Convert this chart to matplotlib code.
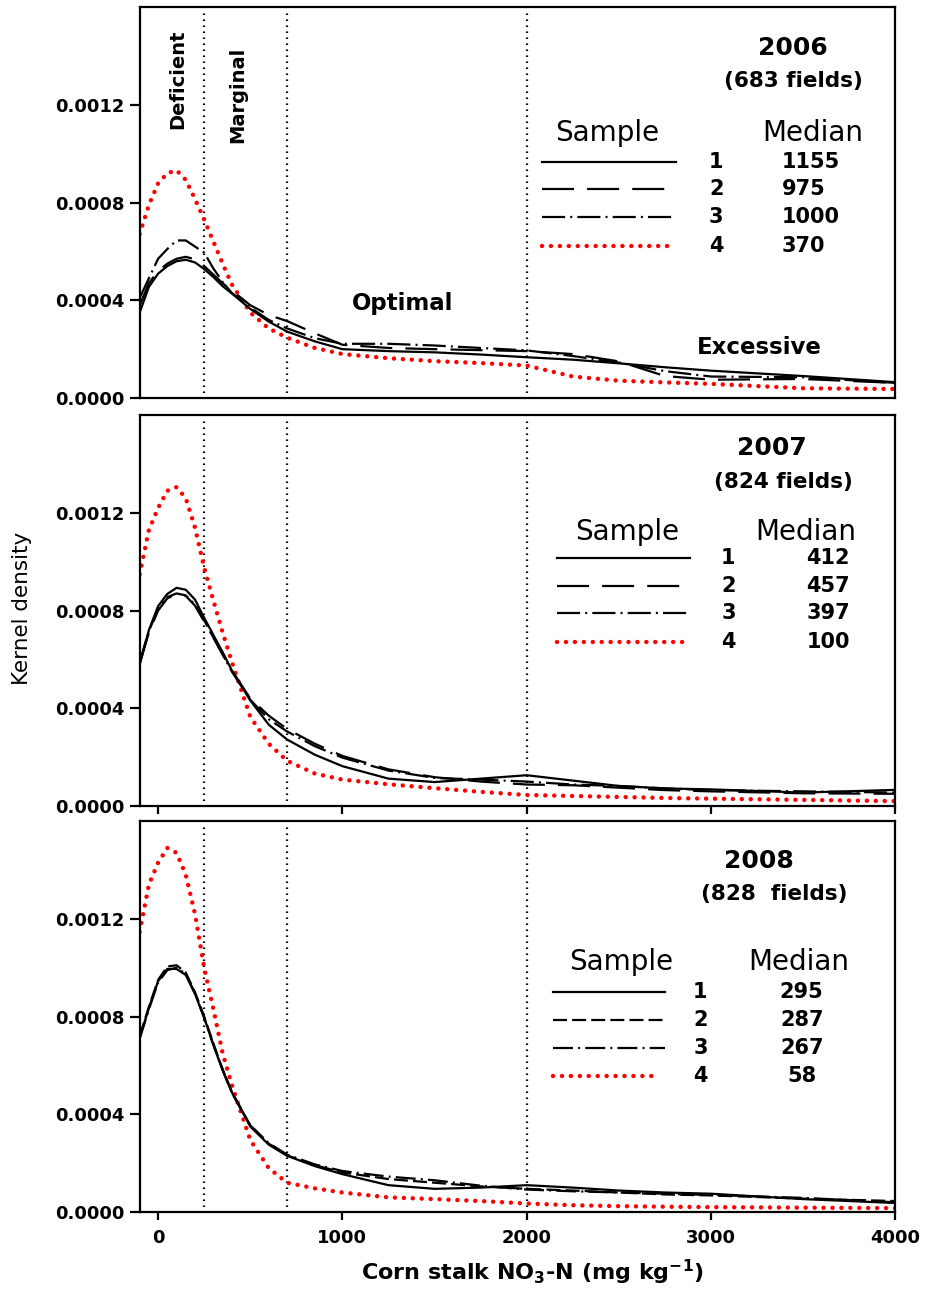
import matplotlib
matplotlib.use("Agg")
import matplotlib.pyplot as plt
from matplotlib.lines import Line2D

# ---------------- data ----------------
x_vals = [-100, -50, 0, 50, 100, 150, 200, 250, 300, 350, 400, 500, 600, 700,
          850, 1000, 1250, 1500, 1750, 2000, 2250, 2500, 2750, 3000, 3500, 4000]

d2006_s1 = [3.50, 4.55, 5.09, 5.40, 5.60, 5.66, 5.55, 5.28, 4.95, 4.58, 4.28, 3.65, 3.13, 2.72,
            2.32, 2.00, 1.92, 1.87, 1.78, 1.67, 1.57, 1.42, 1.26, 1.12, 0.90, 0.65]
d2006_s2 = [3.80, 4.70, 5.20, 5.50, 5.70, 5.78, 5.68, 5.40, 5.05, 4.70, 4.40, 3.80, 3.40, 3.15,
            2.65, 2.18, 2.05, 2.00, 1.96, 1.92, 1.80, 1.50, 0.90, 0.75, 0.78, 0.62]
d2006_s3 = [4.10, 4.90, 5.70, 6.10, 6.45, 6.45, 6.20, 5.95, 5.30, 4.75, 4.30, 3.70, 3.20, 2.85,
            2.45, 2.22, 2.22, 2.15, 2.05, 1.95, 1.72, 1.45, 1.10, 0.88, 0.85, 0.62]
d2006_s4 = [6.71, 7.90, 8.79, 9.20, 9.32, 8.93, 8.15, 7.30, 6.40, 5.50, 4.65, 3.50, 2.85, 2.47,
            2.05, 1.80, 1.63, 1.51, 1.43, 1.33, 0.88, 0.71, 0.64, 0.58, 0.40, 0.37]

d2007_s1 = [5.82, 7.20, 8.18, 8.68, 8.93, 8.85, 8.45, 7.70, 7.00, 6.30, 5.55, 4.32, 3.33, 2.72,
            2.10, 1.63, 1.12, 0.98, 1.12, 1.26, 1.04, 0.82, 0.72, 0.68, 0.55, 0.66]
d2007_s2 = [5.80, 7.10, 8.00, 8.50, 8.68, 8.60, 8.20, 7.55, 6.90, 6.20, 5.55, 4.40, 3.70, 3.15,
            2.55, 2.05, 1.50, 1.18, 1.00, 0.88, 0.85, 0.75, 0.65, 0.60, 0.52, 0.50]
d2007_s3 = [5.90, 7.15, 8.10, 8.55, 8.70, 8.62, 8.25, 7.60, 6.90, 6.20, 5.50, 4.35, 3.55, 3.05,
            2.45, 1.98, 1.45, 1.15, 1.08, 1.00, 0.88, 0.82, 0.72, 0.65, 0.60, 0.55]
d2007_s4 = [9.48, 11.30, 12.20, 12.90, 13.05, 12.60, 11.40, 9.75, 8.40, 7.10, 5.90, 3.65, 2.55, 1.85,
            1.33, 1.08, 0.89, 0.73, 0.58, 0.45, 0.41, 0.37, 0.33, 0.30, 0.25, 0.20]

d2008_s1 = [7.12, 8.35, 9.45, 9.95, 9.95, 9.70, 8.93, 7.95, 6.83, 5.80, 4.90, 3.50, 2.76, 2.30,
            1.88, 1.55, 1.10, 0.95, 1.00, 1.10, 1.00, 0.88, 0.80, 0.75, 0.53, 0.37]
d2008_s2 = [7.20, 8.40, 9.50, 10.05, 10.10, 9.80, 9.00, 8.00, 6.90, 5.85, 4.92, 3.55, 2.80, 2.32,
            1.92, 1.62, 1.35, 1.20, 1.05, 0.95, 0.88, 0.80, 0.72, 0.68, 0.55, 0.45]
d2008_s3 = [7.10, 8.30, 9.40, 9.90, 10.00, 9.75, 8.95, 7.95, 6.85, 5.82, 4.88, 3.55, 2.82, 2.35,
            1.95, 1.68, 1.45, 1.30, 1.08, 0.92, 0.85, 0.80, 0.75, 0.70, 0.58, 0.40]
d2008_s4 = [11.47, 13.40, 14.30, 14.90, 14.70, 13.80, 12.20, 10.00, 8.30, 6.50, 5.20, 2.95, 1.80, 1.20,
            0.97, 0.80, 0.60, 0.53, 0.45, 0.35, 0.28, 0.24, 0.22, 0.20, 0.18, 0.16]

years = ["2006", "2007", "2008"]
fields = ["(683 fields)", "(824 fields)", "(828  fields)"]
medians = [["1155", "975", "1000", "370"],
           ["412", "457", "397", "100"],
           ["295", "287", "267", "58"]]
series = [[d2006_s1, d2006_s2, d2006_s3, d2006_s4],
          [d2007_s1, d2007_s2, d2007_s3, d2007_s4],
          [d2008_s1, d2008_s2, d2008_s3, d2008_s4]]
sample_ids = ["1", "2", "3", "4"]
zone_limits = [250, 700, 2000]
y_ticks = [0.0, 0.0004, 0.0008, 0.0012]
x_ticks = [0, 1000, 2000, 3000, 4000]

# ---------------- styles ----------------
plt.rcParams["font.family"] = "DejaVu Sans"
plt.rcParams["mathtext.default"] = "bf"

LW = 1.6
styles_big = [dict(color="black", lw=LW, ls="-"),
              dict(color="black", lw=LW, ls=(0, (14.4, 5.9))),
              dict(color="black", lw=LW, ls=(0, (10.4, 2.3, 0.9, 2.3))),
              dict(color="red", lw=3.2, ls=(0, (0.01, 2.0)), dash_capstyle="round")]
styles_2008 = [dict(color="black", lw=LW, ls="-"),
               dict(color="black", lw=LW, ls=(0, (6.3, 2.3))),
               dict(color="black", lw=LW, ls=(0, (9.0, 2.3, 0.9, 2.3))),
               dict(color="red", lw=3.2, ls=(0, (0.01, 2.0)), dash_capstyle="round")]

# per-panel text layout (axes fraction)
layout = [
    dict(year=(0.864, 0.895), fld=(0.865, 0.811), sample=(0.619, 0.678), median=(0.891, 0.678),
         lx=(0.533, 0.710), rows=[0.604, 0.535, 0.463, 0.389], num_x=0.763, med_x=0.850, med_ha="left"),
    dict(year=(0.837, 0.916), fld=(0.852, 0.829), sample=(0.645, 0.701), median=(0.881, 0.701),
         lx=(0.552, 0.728), rows=[0.634, 0.563, 0.494, 0.419], num_x=0.779, med_x=0.940, med_ha="right"),
    dict(year=(0.819, 0.898), fld=(0.840, 0.813), sample=(0.637, 0.639), median=(0.872, 0.639),
         lx=(0.547, 0.695), rows=[0.563, 0.491, 0.419, 0.348], num_x=0.742, med_x=0.876, med_ha="center"),
]

fig = plt.figure(figsize=(9.25, 12.89), dpi=100)
bottoms = [0.6912, 0.3747, 0.0597]
axes = [fig.add_axes([0.151, b, 0.817, 0.3033]) for b in bottoms]

for i, ax in enumerate(axes):
    sty = styles_2008 if i == 2 else styles_big
    for k in range(4):
        yv = [v * 1e-4 for v in series[i][k]]
        s = dict(sty[k])
        ax.plot(x_vals, yv, color=s.pop("color"), lw=s.pop("lw"), ls=s.pop("ls"),
                zorder=3 if k < 3 else 2, **s)

    # zone boundaries
    for z in zone_limits:
        ax.axvline(z, ymin=0.012, ymax=0.985, color="black", lw=1.6, ls=(0, (0.7, 2.0)), zorder=1)

    ax.set_xlim(-100, 4000)
    ax.set_ylim(0, 0.0016)
    ax.set_yticks(y_ticks)
    ax.set_yticklabels(["%.4f" % t for t in y_ticks], fontsize=13, fontweight="bold")
    ax.set_xticks(x_ticks)
    for sp in ax.spines.values():
        sp.set_linewidth(1.6)
    ax.tick_params(axis="y", direction="out", length=7, width=1.6, pad=4)
    ax.tick_params(axis="x", direction="out", length=6, width=1.6, pad=6)
    if i < 2:
        ax.tick_params(axis="x", labelbottom=False)
    if i == 0:
        ax.tick_params(axis="x", length=0)
    else:
        ax.set_xticklabels([str(t) for t in x_ticks], fontsize=13, fontweight="bold")

    L = layout[i]
    ax.text(*L["year"], years[i], transform=ax.transAxes, ha="center", va="center",
            fontsize=18, fontweight="bold")
    ax.text(*L["fld"], fields[i], transform=ax.transAxes, ha="center", va="center",
            fontsize=15.5, fontweight="bold")
    ax.text(*L["sample"], "Sample", transform=ax.transAxes, ha="center", va="center", fontsize=20)
    ax.text(*L["median"], "Median", transform=ax.transAxes, ha="center", va="center", fontsize=20)
    for k in range(4):
        yr = L["rows"][k]
        s = dict(sty[k])
        x1 = L["lx"][1] - (0.006 if k == 3 else 0)
        ax.add_line(Line2D([L["lx"][0], x1], [yr, yr], transform=ax.transAxes,
                           color=s.pop("color"), lw=s.pop("lw"), ls=s.pop("ls"), **s))
        ax.text(L["num_x"], yr, sample_ids[k], transform=ax.transAxes, ha="center", va="center",
                fontsize=15, fontweight="bold")
        ax.text(L["med_x"], yr, medians[i][k], transform=ax.transAxes, ha=L["med_ha"], va="center",
                fontsize=15, fontweight="bold")

# zone names (top panel)
top = axes[0]
top.text(109, 0.001306, "Deficient", rotation=90, ha="center", va="center", fontsize=14, fontweight="bold")
top.text(430, 0.001241, "Marginal", rotation=90, ha="center", va="center", fontsize=14, fontweight="bold")
top.text(1328, 0.000387, "Optimal", ha="center", va="center", fontsize=16.5, fontweight="bold")
top.text(3261, 0.000208, "Excessive", ha="center", va="center", fontsize=16.5, fontweight="bold")

fig.text(0.024, 0.528, "Kernel density", rotation=90, ha="center", va="center", fontsize=15.5)
fig.text(0.575, 0.013, r"Corn stalk NO$_\mathbf{3}$-N (mg kg$^\mathbf{-1}$)", ha="center", va="center",
         fontsize=16, fontweight="bold")

fig.savefig("out.png", dpi=100)
